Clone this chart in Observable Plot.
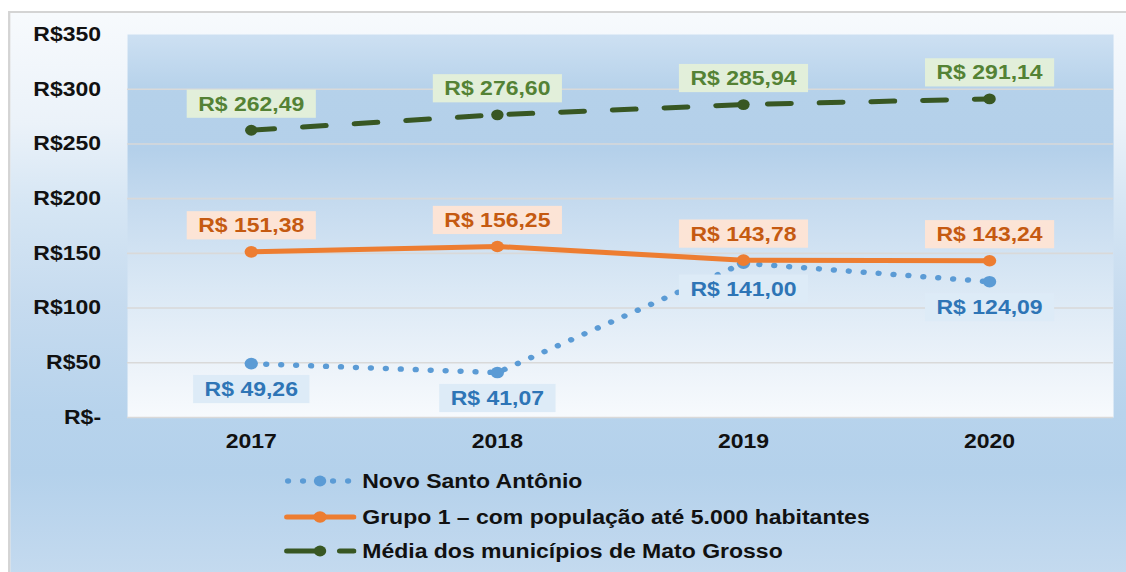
<!DOCTYPE html>
<html>
<head>
<meta charset="utf-8">
<script src="https://cdn.jsdelivr.net/npm/d3@7"></script>
<script src="https://cdn.jsdelivr.net/npm/@observablehq/plot@0.6"></script>
<style>
  html, body { margin: 0; padding: 0; background: #fff; overflow: hidden; width: 1126px; height: 572px; }
  #wrap { position: absolute; left: 0; top: 0; width: 979px; height: 572px; transform: scaleX(1.15); transform-origin: 0 0;
          font-family: "Liberation Sans", Arial, sans-serif; }
  #box { position: absolute; left: 7px; top: 11px; width: 1000px; height: 600px; box-sizing: border-box;
         border: 2px solid #d4d4d4;
         background: linear-gradient(to bottom, #f7fafd 0px, #ebf2f9 110px, #d6e6f4 190px, #c6dbef 290px, #b7d3ec 400px, #b4d1eb 460px, #c4daef 561px); }
  #chart { position: absolute; left: 0; top: 0; }
  .lg { position: absolute; left: 247px; height: 22px; display: flex; align-items: center; font-size: 20px; font-weight: bold; color: #111; white-space: nowrap; }
  .lg svg { margin-right: 5px; flex: none; }
</style>
</head>
<body>
<div id="wrap">
  <div id="box"></div>
  <div id="chart"></div>
  <div id="legend"></div>
</div>
<script>
// ---- data ----
const years = ["2017", "2018", "2019", "2020"];
const novoSanto = [49.26, 41.07, 141.00, 124.09];
const grupo1 = [151.38, 156.25, 143.78, 143.24];
const mediaMT = [262.49, 276.60, 285.94, 291.14];
const yTicks = [0, 50, 100, 150, 200, 250, 300, 350];
const gridTicks = [0, 50, 100, 150, 200, 250, 300];
const seriesNames = ["Novo Santo Antônio", "Grupo 1 – com população até 5.000 habitantes", "Média dos municípios de Mato Grosso"];

// ---- styles ----
const FONT = '"Liberation Sans", Arial, sans-serif';
const C = {
  novo: {line: "#5b9bd5", text: "#2e75b6", box: "#ddebf7"},
  grupo: {line: "#ed7d31", text: "#c55a11", box: "#fce4d6"},
  media: {line: "#385723", text: "#548235", box: "#e2efda"}
};

const rows = (vals) => years.map((year, i) => ({year, value: vals[i]}));
const dNovo = rows(novoSanto), dGrupo = rows(grupo1), dMedia = rows(mediaMT);
const fmt = v => "R$ " + v.toFixed(2).replace(".", ",");

const W = 979;
const chart = Plot.plot({
  width: W,
  height: 460,
  marginLeft: 110.4,
  marginRight: 11.2,
  marginTop: 34,
  marginBottom: 43,
  style: {background: "transparent", fontFamily: FONT, fontSize: "20px", fontWeight: "bold", color: "#111", overflow: "visible"},
  x: {type: "point", domain: years, padding: 0.5, tickSize: 0, tickPadding: 16, label: null},
  y: {domain: [0, 350], ticks: yTicks, tickFormat: d => d === 0 ? "R$-" : "R$" + d, tickSize: 0, tickPadding: 23, label: null},
  marks: [
    Plot.frame({fill: "url(#plotGrad)", stroke: "none"}),
    Plot.ruleY(gridTicks, {stroke: "#d9d9d9", strokeWidth: 1.6}),
    Plot.line(dNovo, {x: "year", y: "value", stroke: C.novo.line, strokeWidth: 5.5, strokeDasharray: "0.01,13", strokeLinecap: "round"}),
    Plot.dot(dNovo, {x: "year", y: "value", r: 5.8, fill: C.novo.line}),
    Plot.line(dGrupo, {x: "year", y: "value", stroke: C.grupo.line, strokeWidth: 5, strokeLinecap: "round"}),
    Plot.dot(dGrupo, {x: "year", y: "value", r: 5.8, fill: C.grupo.line}),
    Plot.line(dMedia, {x: "year", y: "value", stroke: C.media.line, strokeWidth: 5, strokeDasharray: "20,25", strokeLinecap: "round"}),
    Plot.dot(dMedia, {x: "year", y: "value", r: 5.4, fill: C.media.line}),
    Plot.text(dNovo, {x: "year", y: "value", text: d => fmt(d.value), dy: 26, fill: C.novo.text, fontSize: 20, fontWeight: "bold"}),
    Plot.text(dGrupo, {x: "year", y: "value", text: d => fmt(d.value), dy: -26, fill: C.grupo.text, fontSize: 20, fontWeight: "bold"}),
    Plot.text(dMedia, {x: "year", y: "value", text: d => fmt(d.value), dy: -26, fill: C.media.text, fontSize: 20, fontWeight: "bold"})
  ]
});
document.getElementById("chart").appendChild(chart);

// gradient for the plot area
chart.insertAdjacentHTML("afterbegin",
  '<defs><linearGradient id="plotGrad" x1="0" y1="0" x2="0" y2="1">' +
  '<stop offset="0" stop-color="#cde0f2"/><stop offset="0.15" stop-color="#b5d1ea"/>' +
  '<stop offset="0.3" stop-color="#b4d0ea"/><stop offset="0.45" stop-color="#c6dbef"/>' +
  '<stop offset="0.66" stop-color="#dae8f5"/><stop offset="0.85" stop-color="#ebf2f9"/>' +
  '<stop offset="1" stop-color="#f7fafd"/></linearGradient></defs>');

// label background boxes, sized from the rendered label texts
const boxColor = {};
boxColor[C.novo.text] = C.novo.box;
boxColor[C.grupo.text] = C.grupo.box;
boxColor[C.media.text] = C.media.box;
const norm = c => (d3.color(c) ? d3.color(c).formatHex() : c);
Object.keys(boxColor).forEach(k => { boxColor[norm(k)] = boxColor[k]; });
chart.querySelectorAll("text").forEach(t => {
  let f = t.getAttribute("fill") || (t.parentNode && t.parentNode.getAttribute && t.parentNode.getAttribute("fill"));
  if (!f) return;
  const col = boxColor[norm(f)];
  if (!col) return;
  const bb = t.getBBox();
  const r = document.createElementNS("http://www.w3.org/2000/svg", "rect");
  r.setAttribute("x", bb.x - 10);
  r.setAttribute("y", bb.y - 2.5);
  r.setAttribute("width", bb.width + 20);
  r.setAttribute("height", bb.height + 5);
  r.setAttribute("fill", col);
  r.setAttribute("stroke", "none");
  const tr = t.getAttribute("transform");
  if (tr) r.setAttribute("transform", tr);
  t.parentNode.insertBefore(r, t);
});

// legend
const legendSamples = [
  `<svg width="63" height="14"><g fill="${C.novo.line}"><circle cx="3.5" cy="7" r="2.7"/><circle cx="16.5" cy="7" r="2.7"/><circle cx="31.3" cy="7" r="5.4"/><circle cx="42.6" cy="7" r="2.7"/><circle cx="55.7" cy="7" r="2.7"/></g></svg>`,
  `<svg width="63" height="14"><line x1="2.5" y1="7" x2="60.5" y2="7" stroke="${C.grupo.line}" stroke-width="5" stroke-linecap="round"/><circle cx="31.3" cy="7" r="5.8" fill="${C.grupo.line}"/></svg>`,
  `<svg width="63" height="14"><line x1="2.5" y1="7" x2="29" y2="7" stroke="${C.media.line}" stroke-width="5" stroke-linecap="round"/><line x1="48.5" y1="7" x2="60.5" y2="7" stroke="${C.media.line}" stroke-width="5" stroke-linecap="round"/><circle cx="31.3" cy="7" r="5.4" fill="${C.media.line}"/></svg>`
];
const legendTops = [470, 506, 540];
const legend = document.getElementById("legend");
seriesNames.forEach((name, i) => {
  const div = document.createElement("div");
  div.className = "lg";
  div.style.top = legendTops[i] + "px";
  div.innerHTML = legendSamples[i] + "<span>" + name + "</span>";
  legend.appendChild(div);
});
</script>
</body>
</html>
